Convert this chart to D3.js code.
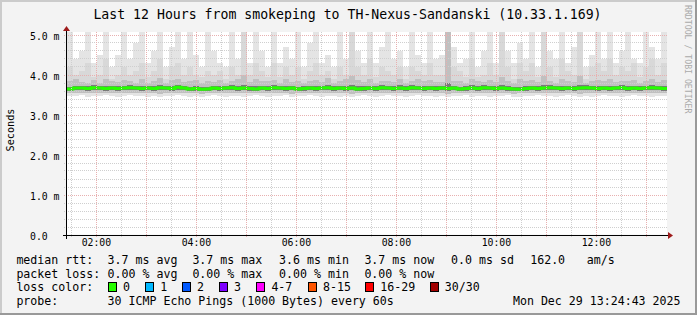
<!DOCTYPE html>
<html><head><meta charset="utf-8">
<script src="https://cdn.jsdelivr.net/npm/d3@7"></script>
<style>body{margin:0;background:#f3f3f3}svg{display:block}</style>
</head><body><svg id="c" width="697" height="315"></svg>
<script>
// ---------- data ----------
const title = "Last 12 Hours from smokeping to TH-Nexus-Sandanski (10.33.1.169)";
const yAxisTitle = "Seconds";
const yTickValues = [0, 1, 2, 3, 4, 5];
const yTickLabels = ["0.0", "1.0 m", "2.0 m", "3.0 m", "4.0 m", "5.0 m"];
const xTickLabels = ["02:00", "04:00", "06:00", "08:00", "10:00", "12:00"];
const timeStart = Date.UTC(2025, 11, 29, 1, 24, 43);
const timeEnd = Date.UTC(2025, 11, 29, 13, 24, 43);

// per-column smoke (ms), 100 columns over 12 h
const medianMs = [
3.64,3.66,3.66,3.65,3.67,3.66,3.65,3.66,3.65,3.66,
3.67,3.66,3.65,3.66,3.65,3.67,3.66,3.65,3.68,3.66,
3.64,3.65,3.63,3.64,3.66,3.65,3.66,3.67,3.65,3.66,
3.65,3.64,3.66,3.65,3.67,3.66,3.65,3.66,3.64,3.65,
3.66,3.65,3.66,3.67,3.65,3.66,3.65,3.66,3.64,3.65,
3.66,3.65,3.67,3.66,3.65,3.66,3.65,3.67,3.66,3.65,
3.66,3.65,3.66,3.65,3.66,3.64,3.65,3.66,3.65,3.67,
3.66,3.65,3.66,3.65,3.64,3.63,3.65,3.66,3.65,3.66,
3.67,3.66,3.65,3.66,3.65,3.66,3.67,3.66,3.65,3.66,
3.65,3.66,3.67,3.65,3.66,3.65,3.66,3.67,3.66,3.65];
const maxMs = [
5.1,4.4,4.6,5.1,4.3,4.5,5.1,4.2,4.5,5.1,
4.4,4.8,5.1,4.3,4.6,5.1,4.2,4.7,5.1,4.4,
5.1,4.5,4.2,5.1,4.6,4.3,4.2,5.1,4.4,5.1,
4.3,5.1,4.6,4.2,5.1,4.3,4.7,4.4,5.1,4.2,
4.8,5.1,4.3,4.5,4.2,5.1,4.4,5.1,4.6,4.3,
5.1,4.3,4.7,5.1,4.4,4.6,4.2,5.1,4.5,4.3,
5.1,4.4,4.5,5.1,4.7,4.3,4.4,5.1,4.2,4.6,
5.1,4.3,5.1,4.6,4.3,4.8,4.4,5.1,4.2,5.1,
4.6,4.4,5.1,4.3,4.7,5.1,4.2,4.5,5.1,4.4,
5.1,4.3,4.6,5.1,4.4,4.3,5.1,4.7,4.4,5.1];
const hiMs = [
4.2,4.0,4.1,4.3,3.95,4.0,4.4,3.9,4.0,4.2,
4.0,4.1,4.3,3.95,4.1,4.4,3.9,4.2,4.3,4.0,
4.2,4.0,3.95,4.1,4.0,4.1,3.9,4.2,4.0,5.1,
4.0,4.3,4.1,3.95,4.3,3.95,4.2,4.0,4.2,3.9,
4.1,4.3,4.0,4.1,3.9,4.2,4.0,5.1,4.2,4.0,
4.4,3.95,4.2,4.1,4.0,4.2,3.9,4.2,4.1,4.0,
4.3,4.0,4.0,5.1,4.2,4.1,3.95,4.4,3.95,4.0,
4.3,4.0,5.1,4.2,3.9,4.3,4.1,4.3,3.95,5.1,
4.2,3.95,4.4,4.1,4.0,5.1,3.9,4.2,4.3,4.1,
4.4,4.0,4.2,4.1,4.3,3.95,4.2,4.4,4.0,4.3];
const upMs = [
3.84,3.88,3.82,3.80,3.86,3.80,3.90,3.84,3.81,3.86,
3.83,3.80,3.88,3.79,3.85,3.92,3.80,3.86,3.88,3.82,
3.85,3.87,3.80,3.83,3.81,3.86,3.79,3.84,3.90,3.98,
3.81,3.88,3.83,3.85,3.87,3.80,3.90,3.82,3.85,3.79,
3.84,3.86,3.81,3.92,3.79,3.83,3.88,3.96,3.86,3.81,
3.88,3.80,3.84,3.83,3.81,3.90,3.79,3.85,3.88,3.83,
3.86,3.81,3.82,5.10,3.85,3.83,3.80,3.90,3.84,3.81,
3.86,3.81,3.95,3.84,3.79,3.88,3.83,3.86,3.81,3.96,
3.85,3.80,3.90,3.83,3.81,3.97,3.79,3.84,3.86,3.83,
3.88,3.81,3.85,3.83,3.86,3.80,3.84,3.90,3.81,3.86];
const q75Ms = [
3.70,3.72,3.72,3.71,3.73,3.72,3.72,3.72,3.71,3.72,
3.73,3.72,3.72,3.72,3.71,3.74,3.72,3.71,3.74,3.72,
3.70,3.71,3.69,3.70,3.72,3.71,3.72,3.73,3.72,3.74,
3.71,3.71,3.72,3.71,3.73,3.72,3.72,3.72,3.70,3.71,
3.72,3.72,3.72,3.74,3.71,3.72,3.72,3.75,3.71,3.71,
3.72,3.71,3.73,3.72,3.71,3.73,3.71,3.73,3.72,3.71,
3.72,3.71,3.72,3.78,3.72,3.70,3.71,3.73,3.71,3.73,
3.72,3.71,3.74,3.71,3.70,3.70,3.71,3.72,3.71,3.74,
3.73,3.72,3.72,3.72,3.71,3.75,3.73,3.72,3.71,3.72,
3.71,3.72,3.73,3.71,3.72,3.71,3.72,3.74,3.72,3.71];
const q25Ms = [
3.59,3.61,3.61,3.60,3.62,3.61,3.60,3.61,3.60,3.61,
3.62,3.61,3.60,3.61,3.60,3.62,3.61,3.60,3.62,3.61,
3.59,3.60,3.58,3.59,3.61,3.60,3.61,3.62,3.60,3.61,
3.60,3.59,3.61,3.60,3.62,3.61,3.60,3.61,3.59,3.60,
3.61,3.60,3.61,3.62,3.60,3.61,3.60,3.61,3.59,3.60,
3.61,3.60,3.62,3.61,3.60,3.61,3.60,3.62,3.61,3.60,
3.61,3.60,3.61,3.60,3.61,3.59,3.60,3.61,3.60,3.62,
3.61,3.60,3.61,3.60,3.59,3.58,3.60,3.61,3.60,3.61,
3.62,3.61,3.60,3.61,3.60,3.61,3.62,3.61,3.60,3.61,
3.60,3.61,3.62,3.60,3.61,3.60,3.61,3.62,3.61,3.60];
const loMs = [
3.54,3.55,3.53,3.54,3.55,3.53,3.54,3.55,3.54,3.53,
3.55,3.54,3.53,3.55,3.54,3.52,3.54,3.53,3.55,3.54,
3.53,3.54,3.52,3.53,3.55,3.54,3.53,3.55,3.54,3.53,
3.54,3.53,3.55,3.54,3.53,3.55,3.54,3.52,3.53,3.54,
3.55,3.54,3.53,3.54,3.55,3.53,3.54,3.52,3.54,3.55,
3.53,3.54,3.55,3.53,3.54,3.53,3.55,3.54,3.53,3.54,
3.55,3.53,3.54,3.52,3.54,3.53,3.55,3.54,3.53,3.54,
3.53,3.55,3.54,3.53,3.52,3.53,3.54,3.55,3.53,3.54,
3.55,3.54,3.53,3.54,3.55,3.52,3.54,3.53,3.55,3.54,
3.53,3.54,3.55,3.53,3.54,3.55,3.53,3.54,3.55,3.54];
const minMs = [
3.47,3.46,3.48,3.45,3.47,3.46,3.48,3.47,3.45,3.46,
3.48,3.47,3.46,3.45,3.47,3.44,3.46,3.47,3.48,3.46,
3.45,3.47,3.44,3.46,3.48,3.47,3.45,3.46,3.47,3.45,
3.46,3.48,3.47,3.45,3.46,3.47,3.48,3.44,3.46,3.47,
3.48,3.46,3.45,3.47,3.46,3.45,3.47,3.44,3.46,3.48,
3.47,3.45,3.46,3.48,3.47,3.46,3.45,3.47,3.48,3.46,
3.47,3.45,3.46,3.44,3.47,3.46,3.48,3.45,3.47,3.46,
3.45,3.47,3.46,3.48,3.45,3.44,3.46,3.47,3.48,3.46,
3.47,3.45,3.46,3.48,3.47,3.44,3.46,3.45,3.47,3.48,
3.46,3.47,3.45,3.46,3.48,3.47,3.46,3.45,3.47,3.46];

const legendRttLabel = "median rtt:";
const legendRtt = ["3.7 ms avg", "3.7 ms max", "3.6 ms min", "3.7 ms now", "0.0 ms sd", "162.0", "am/s"];
const legendLossLabel = "packet loss:";
const legendLoss = ["0.00 % avg", "0.00 % max", "0.00 % min", "0.00 % now"];
const lossColorLabel = "loss color:";
const lossNames = ["0", "1", "2", "3", "4-7", "8-15", "16-29", "30/30"];
const lossColors = ["#26ff00", "#00b8ff", "#0059ff", "#7e00ff", "#ff00ff", "#ff5500", "#ff0000", "#a10000"];
const probeLabel = "probe:";
const probeText = "30 ICMP Echo Pings (1000 Bytes) every 60s";
const dateText = "Mon Dec 29 13:24:43 2025";
const watermark = "RRDTOOL / TOBI OETIKER";

// ---------- drawing ----------
const svg = d3.select("#c");
const W = 697, H = 315;
const X0 = 67, X1 = 667, YB = 234.5, YT = 34.5;
const mono = "'DejaVu Sans Mono', monospace";

svg.append("rect").attr("width", W).attr("height", H).attr("fill", "#f3f3f3");
// 3D frame
svg.append("rect").attr("x",0).attr("y",0).attr("width",W).attr("height",2).attr("fill","#cbcbcb");
svg.append("rect").attr("x",0).attr("y",0).attr("width",2).attr("height",H).attr("fill","#cbcbcb");
svg.append("rect").attr("x",0).attr("y",H-2).attr("width",W).attr("height",2).attr("fill","#999");
svg.append("rect").attr("x",W-2).attr("y",0).attr("width",2).attr("height",H).attr("fill","#999");

const y = d3.scaleLinear().domain([0, 5]).range([YB, YT]);
const xt = d3.scaleUtc().domain([timeStart, timeEnd]).range([X0, X1]);
const N = medianMs.length;
const xc = d3.scaleLinear().domain([0, N]).range([X0, X1]);
const plotTop = Math.round(y(5.06));

// canvas
svg.append("rect").attr("x", X0).attr("y", plotTop).attr("width", X1 - X0).attr("height", YB - plotTop).attr("fill", "#fff");
svg.append("clipPath").attr("id", "pc").append("rect")
  .attr("x", X0).attr("y", plotTop).attr("width", X1 - X0).attr("height", YB - plotTop);
const g = svg.append("g").attr("clip-path", "url(#pc)");

const idx = d3.range(N);
function layer(lo, hi, color) {
  g.append("g").attr("shape-rendering", "crispEdges").selectAll("rect").data(idx).join("rect")
    .attr("x", i => xc(i)).attr("width", i => xc(i + 1) - xc(i))
    .attr("y", i => y(hi[i])).attr("height", i => Math.max(0, y(lo[i]) - y(hi[i])))
    .attr("fill", color);
}
layer(minMs, maxMs, "#e4e4e4");
layer(loMs, hiMs, "#d8d8d8");
layer(loMs, upMs, "#c0c0c0");
layer(q25Ms, q75Ms, "#7a7a7a");

// grid
const gridG = svg.append("g").attr("shape-rendering", "crispEdges");
const minorY = d3.range(0, 5.01, 0.2).filter(v => Math.abs(v - Math.round(v)) > 1e-6);
gridG.selectAll(".mgy").data(minorY).join("line")
  .attr("x1", X0 - 3).attr("x2", X1).attr("y1", v => Math.round(y(v)) + 0.5).attr("y2", v => Math.round(y(v)) + 0.5)
  .attr("stroke", "#cfcfcf").attr("stroke-dasharray", "1,1");
gridG.selectAll(".Mgy").data(yTickValues.slice(1)).join("line")
  .attr("x1", X0 - 3).attr("x2", X1).attr("y1", v => Math.round(y(v)) + 0.5).attr("y2", v => Math.round(y(v)) + 0.5)
  .attr("stroke", "#e8b0b0").attr("stroke-dasharray", "1,1");
const halfHours = xt.ticks(d3.utcMinute.every(30));
gridG.selectAll(".mgx").data(halfHours.filter(d => d.getUTCMinutes() === 30)).join("line")
  .attr("x1", d => Math.round(xt(d)) + 0.5).attr("x2", d => Math.round(xt(d)) + 0.5)
  .attr("y1", plotTop).attr("y2", Math.round(YB) + 3)
  .attr("stroke", "#cfcfcf").attr("stroke-dasharray", "1,1");
gridG.selectAll(".Mgx").data(xt.ticks(d3.utcHour.every(1))).join("line")
  .attr("x1", d => Math.round(xt(d)) + 0.5).attr("x2", d => Math.round(xt(d)) + 0.5)
  .attr("y1", plotTop).attr("y2", Math.round(YB) + 3)
  .attr("stroke", "#e8b0b0").attr("stroke-dasharray", "1,1");

// median line
const line = d3.line().x(d => xc(d[0])).y(d => y(d[1])).curve(d3.curveStepAfter);
const pts = idx.map(i => [i, medianMs[i]]).concat([[N, medianMs[N - 1]]]);
g.append("path").datum(pts).attr("d", line).attr("fill", "none")
  .attr("stroke", lossColors[0]).attr("stroke-width", 3);

// axes
const ax = svg.append("g").attr("shape-rendering", "crispEdges");
ax.append("line").attr("x1", X0 - 4).attr("x2", X1 + 2).attr("y1", Math.round(YB) + 0.5).attr("y2", Math.round(YB) + 0.5).attr("stroke", "#000");
ax.append("line").attr("x1", X0 - 0.5).attr("x2", X0 - 0.5).attr("y1", plotTop - 2).attr("y2", YB + 4).attr("stroke", "#000");
const arrowC = "#9e1b1b";
svg.append("path").attr("d", `M${X1 + 1},${Math.round(YB) - 3} L${X1 + 6},${Math.round(YB) + 0.5} L${X1 + 1},${Math.round(YB) + 4} Z`).attr("fill", arrowC);
svg.append("path").attr("d", `M${X0 - 4},${plotTop - 1} L${X0 - 0.5},${plotTop - 6} L${X0 + 3},${plotTop - 1} Z`).attr("fill", arrowC);

// y labels
svg.append("g").selectAll("text").data(yTickValues).join("text")
  .attr("x", 30).attr("y", v => y(v) + 5)
  .attr("font-family", mono).attr("font-size", 9.8).attr("fill", "#000")
  .text((v, i) => yTickLabels[i]);
// x labels
const labelTimes = xt.ticks(d3.utcHour.every(2));
svg.append("g").selectAll("text").data(labelTimes).join("text")
  .attr("x", d => xt(d)).attr("y", 246).attr("text-anchor", "middle")
  .attr("font-family", mono).attr("font-size", 9.8).attr("fill", "#000")
  .text((d, i) => xTickLabels[i]);

// titles
svg.append("text").attr("x", 347.5).attr("y", 18.5).attr("text-anchor", "middle")
  .attr("font-family", mono).attr("font-size", 13.2).attr("fill", "#000").text(title);
svg.append("text").attr("transform", "translate(14,130) rotate(-90)").attr("text-anchor", "middle")
  .attr("font-family", mono).attr("font-size", 10.2).attr("fill", "#000").text(yAxisTitle);
svg.append("text").attr("transform", "translate(685,5) rotate(90)")
  .attr("font-family", mono).attr("font-size", 8.2).attr("fill", "#aaa").text(watermark);

// legend
const lf = 11.6;
function txt(x, yy, s, anchor) {
  svg.append("text").attr("x", x).attr("y", yy).attr("font-family", mono).attr("font-size", lf)
    .attr("fill", "#000").attr("text-anchor", anchor || "start").attr("xml:space", "preserve").text(s);
}
const rttX = [107.6, 192.4, 279.1, 364.4, 451.1, 530.2, 586.7];
txt(16.4, 263.5, legendRttLabel);
legendRtt.forEach((s, i) => txt(rttX[i], 263.5, s));
txt(16.4, 277.5, legendLossLabel);
legendLoss.forEach((s, i) => txt(rttX[i], 277.5, s));
txt(16.4, 291, lossColorLabel);
const boxX = [108, 145.3, 182, 219, 256.4, 308, 365.3, 429.8];
lossNames.forEach((s, i) => {
  svg.append("rect").attr("x", Math.round(boxX[i]) + 0.5).attr("y", 282.5).attr("width", 8).attr("height", 9)
    .attr("fill", lossColors[i]).attr("stroke", "#000").attr("shape-rendering", "crispEdges");
  txt(boxX[i] + 15, 291, s);
});
txt(16.4, 305, probeLabel);
txt(107.6, 305, probeText);
txt(680.5, 305, dateText, "end");
</script></body></html>
